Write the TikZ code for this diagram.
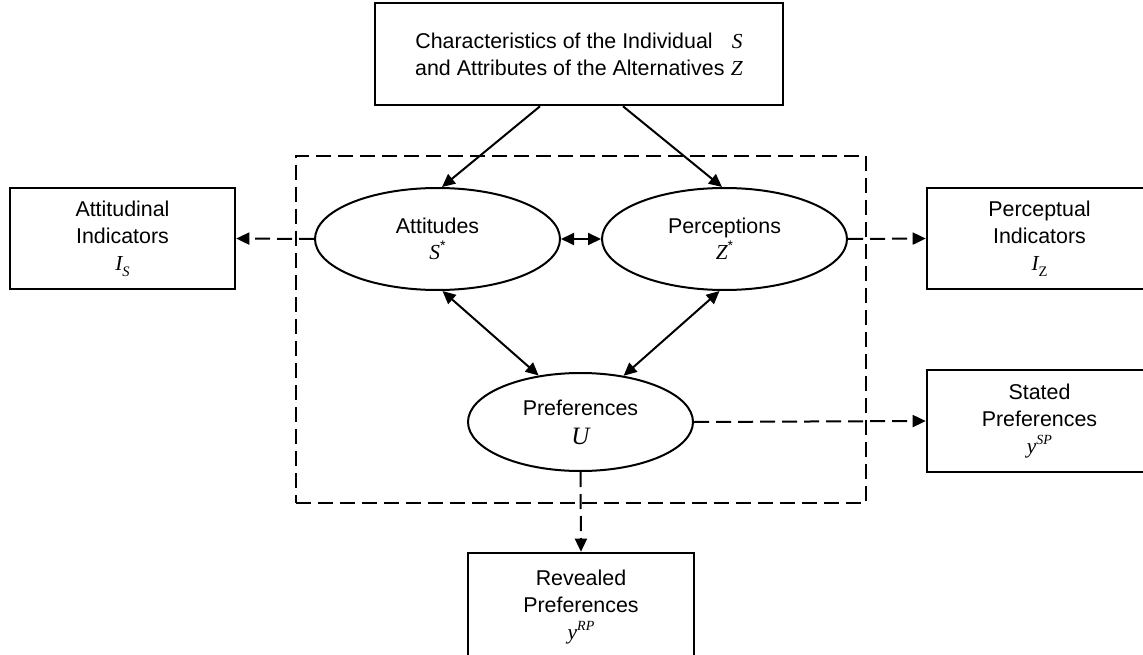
\documentclass[tikz,border=0pt]{standalone}
\usepackage{fontspec}
\setmainfont{Liberation Sans}
\newfontfamily\tms{Liberation Serif}
\usetikzlibrary{arrows.meta,shapes.geometric}
% italic symbols, superscripts and subscripts set in the serif family
\newcommand{\mv}[1]{{\tms\itshape #1}}
\newcommand{\supx}[1]{\raisebox{0.42em}{\fontsize{14}{14}\selectfont #1}}
\newcommand{\subx}[1]{\raisebox{-0.28em}{\fontsize{14.5}{14}\selectfont #1}}

\begin{document}
\begin{tikzpicture}[x=1pt,y=-1pt,
  every node/.style={font=\fontsize{21.4}{27}\selectfont, align=center, inner sep=0pt},
  box/.style={draw, line width=2.6pt, rectangle, minimum width=225pt, minimum height=101pt},
  blob/.style={draw, line width=2pt, ellipse},
  tip/.tip={Triangle[length=13pt,width=12pt]},
  arr/.style={line width=2pt, -tip},
  darr/.style={line width=2pt, -tip, dash pattern=on 15pt off 7pt},
  biarr/.style={line width=2pt, tip-tip},
  frame/.style={draw, line width=2.4pt, dash pattern=on 15pt off 7pt,
                minimum width=570pt, minimum height=347pt}
]
\useasboundingbox (0,0) rectangle (1143,655);

% latent-variable frame
\node[frame] (latent) at (581,329.5) {};

% observed exogenous variables
\node[box, minimum width=408pt, minimum height=102pt] (top) at (579,54)
  {Characteristics of the Individual\hspace{0.9em}\mv{S}\\
   and Attributes of the Alternatives\hspace{0.3em}\mv{Z}};

% latent constructs
\node[blob, minimum width=245pt, minimum height=102pt] (att) at (437.5,239)
  {Attitudes\\[-1pt]\mv{S}\supx{*}};
\node[blob, minimum width=245pt, minimum height=102pt] (per) at (724.5,239)
  {Perceptions\\[-1pt]\mv{Z}\supx{*}};
\node[blob, minimum width=225pt, minimum height=98pt] (pref) at (580.5,422)
  {Preferences\\[2pt]{\fontsize{25}{27}\selectfont\mv{U}}};

% indicators
\node[box] (attind) at (122.5,238.5)
  {Attitudinal\\Indicators\\\mv{I}\subx{\mv{S}}};
\node[box] (perind) at (1039.5,238.5)
  {Perceptual\\Indicators\\\mv{I}\subx{\tms Z}};
\node[box, minimum height=102pt] (stated) at (1039.5,421)
  {Stated\\Preferences\\\mv{y}\supx{\mv{SP}}};
\node[box, minimum width=226pt, minimum height=108pt] (revealed) at (581,607)
  {Revealed\\Preferences\\\mv{y}\supx{\mv{RP}}};

% structural relations
\draw[arr] ([xshift=-39pt]top.south) -- ([xshift=4.5pt]att.north);
\draw[arr] ([xshift=44pt]top.south) -- ([xshift=-2.5pt]per.north);
\draw[biarr] (att.east) -- (per.west);
\draw[biarr] ([xshift=5pt]att.south) -- (pref.132.7);
\draw[biarr] ([xshift=-5pt]per.south) -- (pref.47.3);

% measurement relations
\draw[darr] (att.west) -- (attind.east);
\draw[darr] (per.east) -- (perind.west);
\draw[darr] (pref.east) -- (stated.west);
\draw[darr] (pref.south) -- (revealed.north);
\end{tikzpicture}
\end{document}
